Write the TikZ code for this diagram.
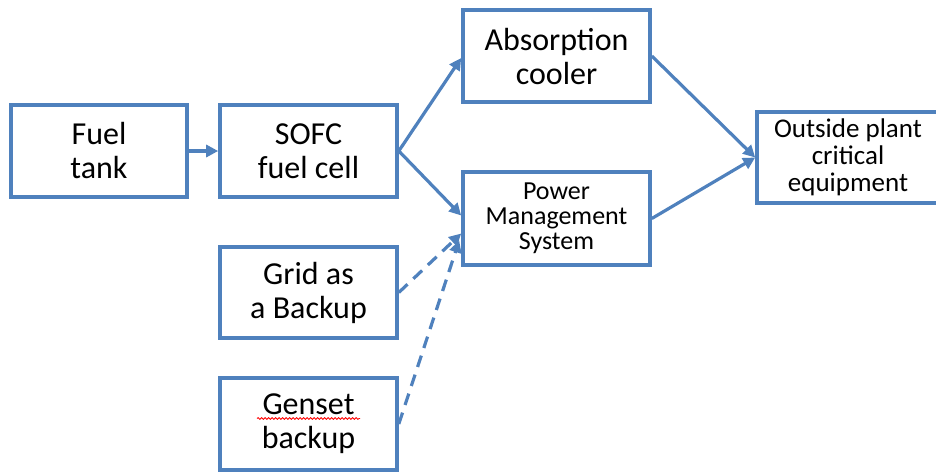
\documentclass[tikz,border=0pt]{standalone}
\usepackage{fontspec}
\setmainfont{Carlito}
\usetikzlibrary{arrows.meta,calc,decorations.pathmorphing}
\definecolor{boxblue}{HTML}{4F81BD}
\tikzset{
  blk/.style={draw=boxblue, line width=3.6pt, fill=white, align=center, inner sep=0pt, anchor=center},
  bigtxt/.style={font=\fontsize{32}{34}\selectfont},
  midtxt/.style={font=\fontsize{27}{27}\selectfont},
  smltxt/.style={font=\fontsize{26}{25}\selectfont},
  conn/.style={draw=boxblue, line width=3.2pt, -{Triangle[length=12pt,width=12pt]}},
  dconn/.style={conn, dash pattern=on 12pt off 8pt},
}
\begin{document}
\begin{tikzpicture}[x=1pt,y=-1pt]
\useasboundingbox (0,0) rectangle (936,472);
\node[blk,bigtxt,minimum width=176pt,minimum height=92pt] (fuel) at (99,151) {Fuel\\tank};
\node[blk,bigtxt,minimum width=177pt,minimum height=92pt] (sofc) at (308.5,151) {SOFC\\fuel cell};
\node[blk,bigtxt,minimum width=187pt,minimum height=92pt] (abs) at (556.5,56) {Absorption\\cooler};
\node[blk,smltxt,minimum width=187pt,minimum height=93pt] (pms) at (556.5,218.5) {Power\\Management\\System};
\node[blk,bigtxt,minimum width=177pt,minimum height=91pt] (grid) at (308.5,292.5) {Grid as\\a Backup};
\node[blk,bigtxt,minimum width=177pt,minimum height=92pt] (gen) at (308.5,424) {Genset\\backup};
\node[blk,midtxt,minimum width=182pt,minimum height=91pt] (out) at (848,157.5) {Outside plant\\critical\\equipment};
\draw[red, line width=0.8pt, decorate, decoration={snake, amplitude=0.9pt, segment length=3.5pt}] (257,418.5) -- (360,418.5);
\draw[conn] (fuel.east) -- (sofc.west);
\draw[conn] (sofc.east) -- ($(abs.west)+(0,2)$);
\draw[conn] (sofc.east) -- ($(pms.west)+(0,-3)$);
\draw[dconn] (grid.east) -- ($(pms.west)+(0,15)$);
\draw[dconn] (gen.east) -- ($(pms.west)+(-2,22)$);
\draw[conn] (abs.east) -- (out.west);
\draw[conn] (pms.east) -- (out.west);
\end{tikzpicture}
\end{document}
